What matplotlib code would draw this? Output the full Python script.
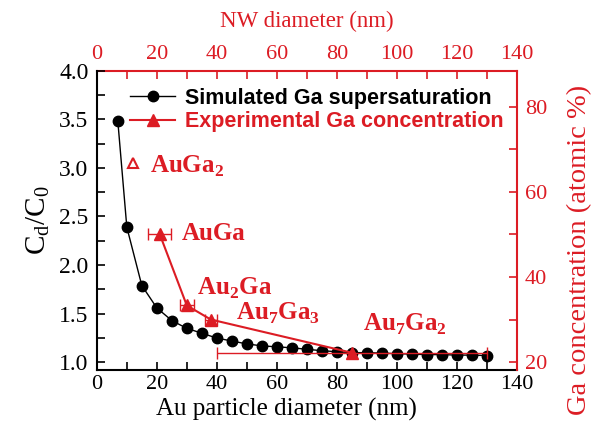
import matplotlib
matplotlib.use("Agg")
import matplotlib.pyplot as plt
from matplotlib.ticker import MultipleLocator
import numpy as np

# Simulated supersaturation (left axis, bottom axis)
au_diam = [7, 10, 15, 20, 25, 30, 35, 40, 45, 50, 55, 60, 65, 70, 75, 80, 85,
           90, 95, 100, 105, 110, 115, 120, 125, 130]
cd_c0 = [3.48, 2.39, 1.79, 1.56, 1.43, 1.35, 1.30, 1.25, 1.22, 1.19, 1.17, 1.16,
         1.15, 1.135, 1.12, 1.11, 1.10, 1.10, 1.095, 1.09, 1.085, 1.08, 1.08,
         1.075, 1.075, 1.07]

# Experimental Ga concentration (right axis, top axis)
nw_diam = [21, 30, 38, 85]
nw_err = [3.8, 2.3, 2.0, 45]
ga_conc = [50.0, 33.3, 30.0, 22.2]

auga2_diam = [12]
auga2_conc = [66.7]

RED = "#dc1c24"

plt.rcParams["font.family"] = "Liberation Serif"
plt.rcParams["xtick.direction"] = "in"
plt.rcParams["ytick.direction"] = "in"

fig = plt.figure(figsize=(5.94, 4.25), dpi=100)
ax = fig.add_axes([0.163, 0.129, 0.707, 0.705])
ax2 = ax.twinx()

l1, = ax.plot(au_diam, cd_c0, "-o", color="black", lw=1, ms=7.5,
              label="Simulated Ga supersaturation")
ax.set_xlim(0, 140)
ax.set_ylim(0.92, 4.0)
ax.xaxis.set_major_locator(MultipleLocator(20))
ax.xaxis.set_minor_locator(MultipleLocator(10))
ax.yaxis.set_major_locator(MultipleLocator(0.5))
ax.yaxis.set_minor_locator(MultipleLocator(0.25))
ax.tick_params(which="both", labelsize=16, length=6, width=1.2, top=False)
ax.tick_params(axis="y", labelsize=17, pad=6)
ax.set_xlabel("Au particle diameter (nm)", fontsize=18, labelpad=3)
ax.xaxis.label.set_x(0.451)
ax.set_ylabel(r"C$_\mathregular{d}$/C$_\mathregular{0}$", fontsize=21, labelpad=5)
for s in ("left", "bottom"):
    ax.spines[s].set_linewidth(1.5)
ax.spines["top"].set_visible(False)
ax.spines["right"].set_visible(False)

# red series
l2, = ax2.plot(nw_diam, ga_conc, "-^", color=RED, lw=1.5, ms=9,
               label="Experimental Ga concentration")
ax2.errorbar(nw_diam, ga_conc, xerr=nw_err, fmt="none", ecolor=RED,
             elinewidth=1, capsize=4, capthick=1)
ax2.plot(auga2_diam, auga2_conc, "^", mfc="white", mec=RED, mew=1.5, ms=7)
ax2.set_ylim(18.1, 88.5)
ax2.yaxis.set_major_locator(MultipleLocator(20))
ax2.yaxis.set_minor_locator(MultipleLocator(10))
ax2.tick_params(axis="y", which="both", colors=RED, labelsize=16, length=6, width=1.2, pad=6)
ax2.set_ylabel("Ga concentration (atomic %)", color=RED, fontsize=20.5, labelpad=14)
ax2.yaxis.label.set_y(0.40)
ax2.spines["right"].set_color(RED)
ax2.spines["right"].set_linewidth(1.5)
ax2.spines["top"].set_visible(False)
ax2.spines["left"].set_visible(False)
ax2.spines["bottom"].set_visible(False)

top = ax.secondary_xaxis("top")
top.xaxis.set_major_locator(MultipleLocator(20))
top.xaxis.set_minor_locator(MultipleLocator(10))
top.tick_params(which="both", colors=RED, labelsize=16, length=6, width=1.2,
                direction="in", pad=5)
top.spines["top"].set_color(RED)
top.spines["top"].set_linewidth(1.5)
top.set_xlabel("NW diameter (nm)", color=RED, fontsize=16.5, labelpad=13)

# phase labels
kw = dict(color=RED, fontsize=18, fontweight="bold", va="baseline")
ax2.text(17.8, 64.5, "AuGa$_\\mathregular{2}$", **kw)
ax2.text(28.4, 48.7, "AuGa", **kw)
ax2.text(33.4, 35.8, "Au$_\\mathregular{2}$Ga", **kw)
ax2.text(46.4, 29.9, "Au$_\\mathregular{7}$Ga$_\\mathregular{3}$", **kw)
ax2.text(88.8, 27.3, "Au$_\\mathregular{7}$Ga$_\\mathregular{2}$", **kw)

leg = ax2.legend([l1, l2], [l1.get_label(), l2.get_label()], loc="upper left",
                 bbox_to_anchor=(0.079, 0.942), frameon=False, handlelength=2.1,
                 handletextpad=0.45, borderaxespad=0, borderpad=0, labelspacing=0.1,
                 prop=dict(family="Liberation Sans", weight="bold", size=15.5))
leg.get_texts()[1].set_color(RED)

fig.savefig("out.png", dpi=100)
